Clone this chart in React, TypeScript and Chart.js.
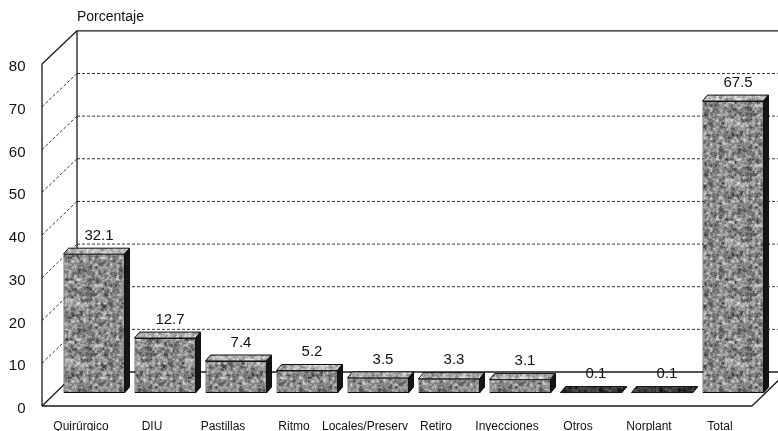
import { useEffect, useRef } from "react";
import { Chart, registerables } from "chart.js";

Chart.register(...registerables);

const categories = [
  "Quirúrgico",
  "DIU",
  "Pastillas",
  "Ritmo",
  "Locales/Preserv",
  "Retiro",
  "Inyecciones",
  "Otros",
  "Norplant",
  "Total",
];
const values = [32.1, 12.7, 7.4, 5.2, 3.5, 3.3, 3.1, 0.1, 0.1, 67.5];
const yTicks = [0, 10, 20, 30, 40, 50, 60, 70, 80];
const axisTitle = "Porcentaje";

const FONT = 'Arial, "Liberation Sans", sans-serif';
const FRONT_DX = -16.5; // front plane x offset vs bar plane
const BACK_DX = 18.5; // back wall x offset vs bar plane
const BACK_DY = -21; // back wall y offset vs bar plane (at 0)
const BACK_SCALE = 0.986;
const BAR_DX = 5; // bar depth
const BAR_DY = -6;

function makeTexture(mean: number, spread: number): HTMLCanvasElement {
  const size = 60;
  const c = document.createElement("canvas");
  c.width = size;
  c.height = size;
  const g = c.getContext("2d")!;
  const img = g.createImageData(size, size);
  const hash = (x: number, y: number) => {
    const s = Math.sin(x * 127.1 + y * 311.7) * 43758.5453;
    return s - Math.floor(s);
  };
  const noise = (x: number, y: number, cell: number) => {
    const n = size / cell;
    const gx = Math.floor(x / cell);
    const gy = Math.floor(y / cell);
    const fx = (x % cell) / cell;
    const fy = (y % cell) / cell;
    const a = hash(gx % n, gy % n);
    const b = hash((gx + 1) % n, gy % n);
    const cc = hash(gx % n, (gy + 1) % n);
    const d = hash((gx + 1) % n, (gy + 1) % n);
    const sx = fx * fx * (3 - 2 * fx);
    const sy = fy * fy * (3 - 2 * fy);
    return (a * (1 - sx) + b * sx) * (1 - sy) + (cc * (1 - sx) + d * sx) * sy;
  };
  for (let y = 0; y < size; y++) {
    for (let x = 0; x < size; x++) {
      const v = 0.45 * noise(x, y, 3) + 0.35 * noise(x + 7, y + 3, 2) + 0.2 * hash(x + 0.5, y + 0.25);
      let gv = mean + (v - 0.5) * spread * 2;
      gv = Math.max(0, Math.min(255, gv));
      const i = (y * size + x) * 4;
      img.data[i] = gv;
      img.data[i + 1] = gv;
      img.data[i + 2] = gv;
      img.data[i + 3] = 255;
    }
  }
  g.putImageData(img, 0, 0);
  return c;
}

export default function App() {
  const ref = useRef<HTMLCanvasElement>(null);

  useEffect(() => {
    const canvas = ref.current!;
    const ctx0 = canvas.getContext("2d")!;
    const frontTex = ctx0.createPattern(makeTexture(138, 115), "repeat")!;
    const topTex = ctx0.createPattern(makeTexture(180, 90), "repeat")!;
    const flatTex = ctx0.createPattern(makeTexture(60, 80), "repeat")!;

    Chart.defaults.font.family = FONT;

    const line = (ctx: CanvasRenderingContext2D, x1: number, y1: number, x2: number, y2: number) => {
      ctx.beginPath();
      ctx.moveTo(x1, y1);
      ctx.lineTo(x2, y2);
      ctx.stroke();
    };

    const box3d = {
      id: "box3d",
      beforeDatasetsDraw(chart: any) {
        const { ctx, chartArea: ca, scales } = chart;
        const y = scales.y;
        const yF = scales.yF;
        const y0 = y.getPixelForValue(0);
        const backY = (v: number) => y0 + BACK_DY + (y.getPixelForValue(v) - y0) * BACK_SCALE;
        const fY = (v: number) => yF.getPixelForValue(v);
        const fx = ca.left + FRONT_DX;
        const bx = ca.left + BACK_DX;
        const right = chart.width + 20;
        const topV = yTicks[yTicks.length - 1];
        ctx.save();
        ctx.strokeStyle = "#333";
        ctx.lineWidth = 1;
        ctx.setLineDash([3, 2]);
        for (const v of yTicks) {
          if (v <= 0 || v >= topV) continue;
          line(ctx, bx, backY(v), right, backY(v));
          line(ctx, fx, fY(v), bx, backY(v));
        }
        ctx.setLineDash([]);
        ctx.strokeStyle = "#1a1a1a";
        ctx.lineWidth = 1.3;
        line(ctx, bx, backY(topV), right, backY(topV));
        line(ctx, fx, fY(topV), bx, backY(topV));
        line(ctx, fx, fY(0), fx, fY(topV));
        line(ctx, bx, backY(0), bx, backY(topV));
        line(ctx, fx, fY(0), bx, backY(0));
        line(ctx, bx, backY(0), right, backY(0));
        const fr = ca.right + FRONT_DX;
        line(ctx, fx, fY(0), fr, fY(0));
        line(ctx, fr, fY(0), ca.right + BACK_DX, backY(0));
        ctx.restore();
      },
      afterDatasetsDraw(chart: any) {
        const { ctx } = chart;
        const meta = chart.getDatasetMeta(0);
        ctx.save();
        meta.data.forEach((el: any, i: number) => {
          const { x, y: top, base, width } = el.getProps(["x", "y", "base", "width"], true);
          const l = x - width / 2;
          const r = x + width / 2;
          const flat = base - top < 2;
          // top face
          ctx.beginPath();
          ctx.moveTo(l, top);
          ctx.lineTo(l + BAR_DX, top + BAR_DY);
          ctx.lineTo(r + BAR_DX, top + BAR_DY);
          ctx.lineTo(r, top);
          ctx.closePath();
          ctx.fillStyle = flat ? flatTex : topTex;
          ctx.fill();
          ctx.strokeStyle = "#111";
          ctx.lineWidth = 1;
          ctx.stroke();
          // side face
          ctx.beginPath();
          ctx.moveTo(r, top);
          ctx.lineTo(r + BAR_DX, top + BAR_DY);
          ctx.lineTo(r + BAR_DX, base + BAR_DY);
          ctx.lineTo(r, base);
          ctx.closePath();
          ctx.fillStyle = "#151515";
          ctx.fill();
          ctx.stroke();
          // value label
          ctx.fillStyle = "#111";
          ctx.font = `15px ${FONT}`;
          ctx.textAlign = "center";
          ctx.textBaseline = "bottom";
          ctx.fillText(values[i].toFixed(1), x + 5, top + BAR_DY - 5);
        });
        ctx.restore();
      },
      afterDraw(chart: any) {
        const { ctx } = chart;
        ctx.save();
        ctx.fillStyle = "#111";
        ctx.font = `14px ${FONT}`;
        ctx.textAlign = "left";
        ctx.textBaseline = "middle";
        ctx.fillText(axisTitle, 77, 17);
        ctx.restore();
      },
    };

    const chart = new Chart(canvas, {
      type: "bar",
      data: {
        labels: categories,
        datasets: [
          {
            data: values,
            backgroundColor: frontTex as any,
            borderColor: "#111",
            borderWidth: 1,
            borderSkipped: false,
            barPercentage: 0.86,
            categoryPercentage: 1,
            xAxisID: "x",
            yAxisID: "y",
          },
        ],
      },
      options: {
        animation: false,
        responsive: false,
        devicePixelRatio: 1,
        layout: { padding: { top: 47, right: 9.5, left: 0, bottom: 0 } },
        plugins: {
          legend: { display: false },
          tooltip: { enabled: false },
          title: { display: false },
        },
        scales: {
          x: {
            type: "category",
            position: "bottom",
            offset: true,
            grid: { display: false, drawTicks: false },
            border: { display: false },
            ticks: {
              font: { size: 12, family: FONT },
              color: "#111",
              labelOffset: -13,
              padding: 26,
              maxRotation: 0,
              minRotation: 0,
              autoSkip: false,
            },
            afterFit: (s: any) => {
              s.height = 38;
              s.paddingLeft = 0;
              s.paddingRight = 0;
            },
          },
          y: {
            type: "linear",
            display: false,
            min: 0,
            max: 80,
          },
          yF: {
            type: "linear",
            position: "left",
            min: 3.04,
            max: 83.98,
            grid: { display: false, drawTicks: false },
            border: { display: false },
            ticks: {
              font: { size: 15, family: FONT },
              color: "#111",
              padding: 33,
              labelOffset: 3,
              autoSkip: false,
            },
            afterBuildTicks: (axis: any) => {
              axis.ticks = yTicks.map((v) => ({ value: v }));
            },
            afterFit: (s: any) => {
              s.width = 58.5;
              s.paddingTop = 0;
              s.paddingBottom = 0;
            },
          },
        },
      },
      plugins: [box3d],
    });

    return () => chart.destroy();
  }, []);

  return (
    <div style={{ position: "fixed", left: 0, top: 0, width: 778, height: 431, background: "#fff" }}>
      <canvas ref={ref} width={778} height={431} style={{ display: "block" }} />
    </div>
  );
}
